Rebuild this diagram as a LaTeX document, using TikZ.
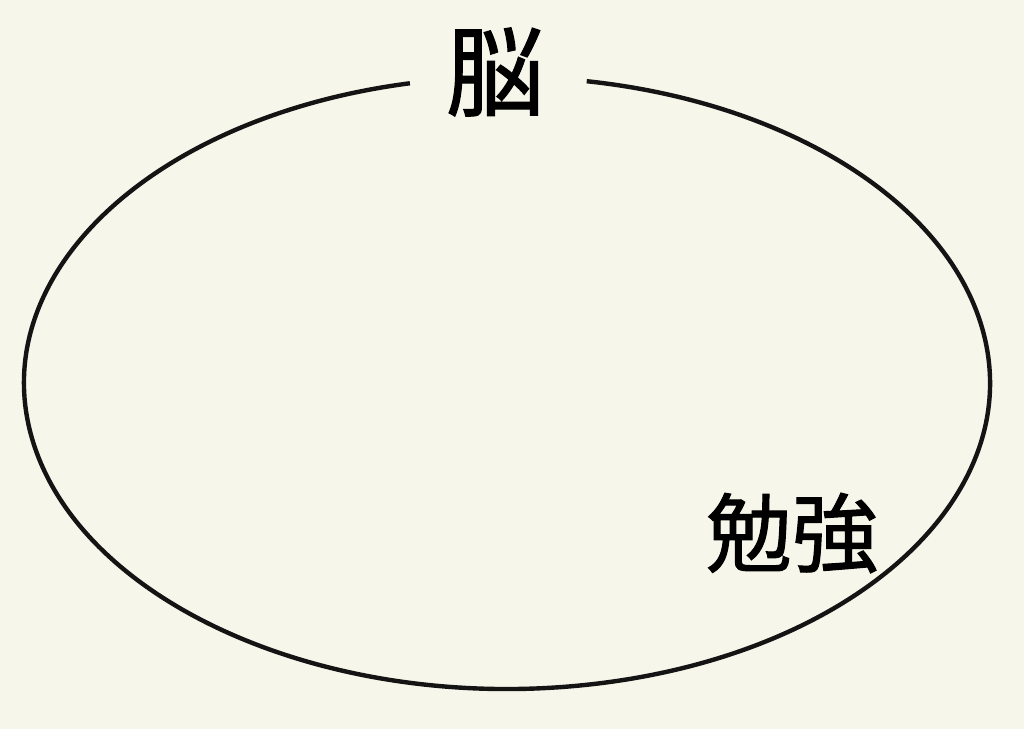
\documentclass[tikz,border=0pt]{standalone}
\usepackage{fontspec}
\newfontfamily\cjk[FakeBold=1.2]{Noto Sans CJK JP}
\usepackage{tikz}
\usetikzlibrary{calc}
\usetikzlibrary{positioning}
\definecolor{paper}{HTML}{F7F6EA}
\tikzset{label/.style={font=\cjk\fontsize{98}{98}\selectfont,inner sep=0mm,text=black}}

\begin{document}
\begin{tikzpicture}[x=1pt,y=1pt]
  % some styles
  \tikzset{
    brain/.style={
      line width=4.4pt,
      draw=black!92
    }
  }
\fill[paper] (0,0) rectangle (1024,729);
\useasboundingbox (0,0) rectangle (1024,729);

\coordinate (centre) at (507,346);
% ellipse with a gap at the top for the title
\draw[brain] ($(centre)+(101.6:483 and 306)$) arc[start angle=101.6,end angle=440.5,x radius=483,y radius=306];

\node[label] (nou) at (495,657) {脳};
\node[label,font=\cjk\fontsize{86}{86}\selectfont] (benkyou) at (792,196) {勉強};

\end{tikzpicture}
\end{document}
